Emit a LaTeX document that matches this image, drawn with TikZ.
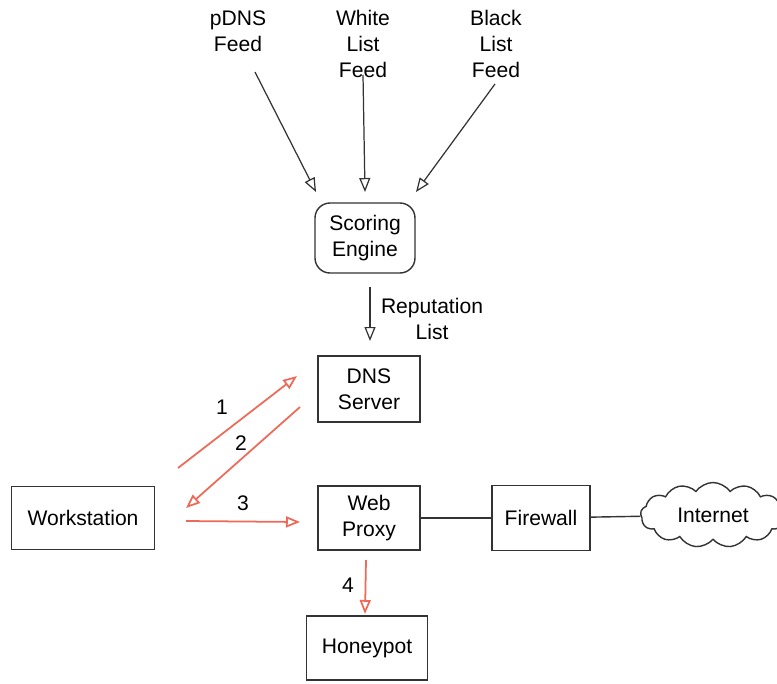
\documentclass[tikz,border=0pt]{standalone}
\usepackage{fontspec}
\setmainfont{Liberation Sans}
\usetikzlibrary{arrows.meta,shapes.symbols}
\definecolor{NetInk}{HTML}{333333}
\definecolor{NetRed}{HTML}{EE6A58}

\begin{document}
\begin{tikzpicture}[
    x=0.02cm,y=-0.02cm,
    font=\fontsize{12}{14.8}\selectfont,
    box/.style={draw=NetInk,line width=0.8pt,align=center,inner sep=2pt},
    feed/.style={align=center,inner sep=0pt},
    engine/.style={box,rounded corners=0.3cm,minimum width=2cm,minimum height=1.4cm},
    net/.style={cloud,cloud puffs=13,cloud puff arc=110,aspect=2.4,draw=NetInk,
      line width=0.8pt,minimum width=2.9cm,minimum height=1.3cm,inner sep=0pt},
    flow/.style={-{Triangle[open,length=2.8mm,width=2.2mm]},line width=0.7pt,draw=NetInk},
    lookup/.style={-{Triangle[open,length=2.8mm,width=2.2mm]},line width=1pt,draw=NetRed},
    link/.style={line width=0.8pt,draw=NetInk}
  ]
    \useasboundingbox (0,0) rectangle (777,683);
    % sources
    \node[feed] (pdns) at (238,31) {pDNS\\Feed};
    \node[feed] (white) at (363,44) {White\\List\\Feed};
    \node[feed] (black) at (496,44) {Black\\List\\Feed};
    \node[engine] (engine) at (365,238) {Scoring\\Engine};
    % boxes
    \node[box,minimum width=2.04cm,minimum height=1.32cm] (dns) at (369,389) {DNS\\Server};
    \node[box,minimum width=2.04cm,minimum height=1.28cm] (proxy) at (369,518) {Web\\Proxy};
    \node[box,minimum width=2.86cm,minimum height=1.26cm] (ws) at (83,518) {Workstation};
    \node[box,minimum width=1.96cm,minimum height=1.3cm] (fw) at (541,518) {Firewall};
    \node[box,minimum width=2.42cm,minimum height=1.28cm] (pot) at (367,648) {Honeypot};
    \node[net] (inet) at (713,515) {Internet};
    % free ends
    \coordinate (pdnsend) at (255,72);
    \coordinate (whiteend) at (363,75);
    \coordinate (blackend) at (495,84);
    \coordinate (engpdns) at (316,192);
    \coordinate (engwhite) at (365,192);
    \coordinate (engblack) at (416,192);
    \coordinate (repfrom) at (370,287);
    \coordinate (repto) at (370,341);
    \coordinate (q1) at (178,468);
    \coordinate (a1) at (297,376);
    \coordinate (q2) at (300,407);
    \coordinate (a2) at (186,508);
    \coordinate (q3) at (186,521);
    \coordinate (a3) at (300,522);
    \coordinate (q4) at (366,560);
    \coordinate (a4) at (365,614);
    % feeds into engine
    \draw[flow] (pdnsend) -- (engpdns);
    \draw[flow] (whiteend) -- (engwhite);
    \draw[flow] (blackend) -- (engblack);
    \draw[flow] (repfrom) -- (repto);
    \node[feed] (replabel) at (432,319) {Reputation\\List};
    % lookups
    \draw[lookup] (q1) -- (a1);
    \draw[lookup] (q2) -- (a2);
    \draw[lookup] (q3) -- (a3);
    \draw[lookup] (q4) -- (a4);
    \node (n1) at (222,407) {1};
    \node (n2) at (241,443) {2};
    \node (n3) at (243,503) {3};
    \node (n4) at (348,585) {4};
    % wire
    \draw[link] (proxy) -- (fw);
    \draw[link] (fw) -- (inet);
  \end{tikzpicture}
\end{document}
